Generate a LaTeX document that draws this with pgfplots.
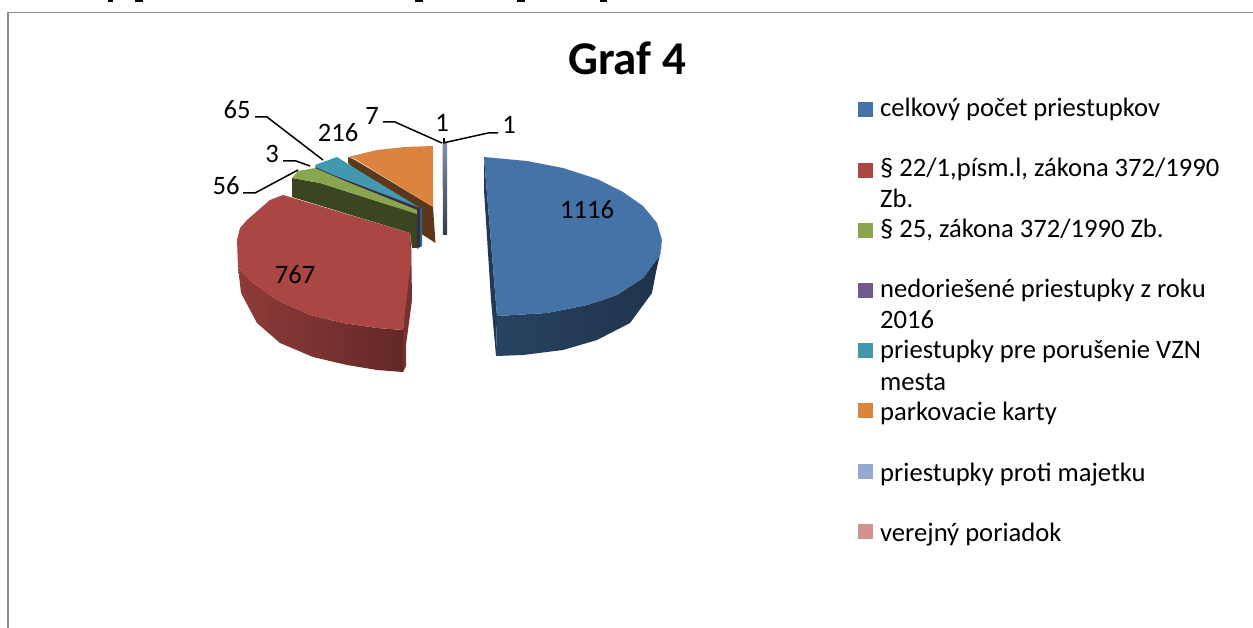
\documentclass[border=0pt]{standalone}
\usepackage{pgfplots}
\pgfplotsset{compat=1.18}
\usepackage{fontspec}
\setmainfont{Carlito}
\definecolor{cBlue}{HTML}{4572A7}
\definecolor{cRed}{HTML}{AA4643}
\definecolor{cGreen}{HTML}{89A54E}
\definecolor{cPurple}{HTML}{71588F}
\definecolor{cTeal}{HTML}{4198AF}
\definecolor{cOrange}{HTML}{DB843D}
\definecolor{cLBlue}{HTML}{93A9CF}
\definecolor{cPink}{HTML}{D19392}
\newcommand{\lab}{\fontsize{26.6}{30}\selectfont}
\begin{document}
\begin{tikzpicture}
\begin{axis}[hide axis, scale only axis, width=1253pt, height=628pt,
  xmin=0, xmax=1253, ymin=0, ymax=628, y dir=reverse, clip=true]
% page background keeps the full extent
\addplot[draw=none, fill=white] coordinates {(0,0) (1253,0) (1253,628) (0,628)};
% frame
\addplot[draw=black!45, line width=1.6pt] coordinates {(8,640) (8,12.5) (1260,12.5)};
% cut-off descenders of the text line above
\addplot[black, line width=2pt] coordinates {(108,0.8) (113,0.8)};
\addplot[black, line width=2pt] coordinates {(135,0.8) (143,0.8)};
\addplot[black, line width=2pt] coordinates {(415,0.8) (423,0.8)};
\addplot[black, line width=2pt] coordinates {(517,0.8) (525,0.8)};
\addplot[black, line width=2pt] coordinates {(600,0.8) (607,0.8)};
% thin slices
\addplot[draw=none, shade, top color=black!15!cLBlue, middle color=black!45!cLBlue, bottom color=black!65!cLBlue] coordinates {(442.5,143) (447,143) (447,235) (443,235)};
% orange
\addplot[draw=none, fill=black!58!cOrange] coordinates {(348,157) (355,160) (433,207) (435.5,243) (420,233) (348,163)};
\addplot[draw=none, fill=cOrange] coordinates {(348,157) (377,150) (405,147) (433,146) (433,207) (355,159)};
% teal wall, purple wall, green wall
\addplot[draw=none, fill=black!30!cTeal] coordinates {(417,209) (422,208) (422,246) (417,249)};
\addplot[draw=none, fill=cTeal] coordinates {(315,165) (337,157) (348,164) (420,208) (417,208) (333,176) (316,168)};
\addplot[draw=none, fill=black!50!cPurple] coordinates {(315,167) (333,175) (420,208) (420,247) (417,247) (417,212) (345,182) (317,170)};
\addplot[draw=none, fill=black!58!cGreen] coordinates {(292,178) (292,197) (410,233) (412,248) (417,248) (417,214) (320,183)};
\addplot[draw=none, fill=cGreen] coordinates {(292,178) (298,171) (315,168) (345,181) (417,210) (417,214) (320,183)};
% red
\addplot[draw=none, fill=black!30!cRed] coordinates {(403,330) (411,233) (412,300) (406,345) (406,366) (403,372)};
\addplot[draw=none, shade, left color=black!16!cRed, middle color=black!25!cRed, right color=black!42!cRed] coordinates {(238,267) (253,283) (277,300) (310,315) (343,323) (377,328) (403,330) (403,372) (377,370) (347,365) (313,357) (280,343) (257,323) (241,293)};
\addplot[draw=none, fill=cRed] coordinates {(410,233) (283,195) (270,200) (247,220) (240,228) (237,240) (238,267) (253,283) (277,300) (310,315) (343,323) (377,328) (403,330) (411,260)};
% blue
\addplot[draw=none, fill=black!50!cBlue] coordinates {(484,157) (497,316) (496,356) (491,300) (484,190)};
\addplot[draw=none, shade, left color=black!42!cBlue, middle color=black!62!cBlue, right color=black!55!cBlue] coordinates {(662,245) (660,255) (643,278) (617,295) (587,305) (547,313) (497,316) (496,356) (523,355) (563,350) (597,340) (630,323) (652,293) (656,272)};
\addplot[draw=none, fill=cBlue] coordinates {(484,157) (527,161) (563,168) (597,179) (623,192) (643,206) (657,223) (662,240) (660,255) (643,278) (617,295) (587,305) (547,313) (497,316)};
% leader lines
\addplot[black, line width=1.5pt] coordinates {(255,117) (267,117) (323,160)};
\addplot[black, line width=1.5pt] coordinates {(283,161) (296,161) (310,166)};
\addplot[black, line width=1.5pt] coordinates {(243,193) (255,193) (298,170)};
\addplot[black, line width=1.5pt] coordinates {(383,122) (395,122) (442,143)};
\addplot[black, line width=1.5pt] coordinates {(444,138) (444,143)};
\addplot[black, line width=1.5pt] coordinates {(498,133) (488,133) (443,143)};
% legend swatches
\addplot[draw=none, fill=cBlue] coordinates {(858,102) (873,102) (873,117) (858,117)};
\addplot[draw=none, fill=cRed] coordinates {(858,163) (873,163) (873,178) (858,178)};
\addplot[draw=none, fill=cGreen] coordinates {(858,223) (873,223) (873,238) (858,238)};
\addplot[draw=none, fill=cPurple] coordinates {(858,283) (873,283) (873,298) (858,298)};
\addplot[draw=none, fill=cTeal] coordinates {(858,343) (873,343) (873,358) (858,358)};
\addplot[draw=none, fill=cOrange] coordinates {(858,403) (873,403) (873,418) (858,418)};
\addplot[draw=none, fill=cLBlue] coordinates {(858,464) (873,464) (873,479) (858,479)};
\addplot[draw=none, fill=cPink] coordinates {(858,524) (873,524) (873,539) (858,539)};
% title
\node[anchor=base, inner sep=0pt] at (axis cs:627,75) {\fontsize{47}{56}\selectfont\bfseries Graf 4};
% data labels
\node[inner sep=0pt] at (axis cs:237,110) {\lab 65};
\node[inner sep=0pt] at (axis cs:338,133) {\lab 216};
\node[inner sep=0pt] at (axis cs:272,154) {\lab 3};
\node[inner sep=0pt] at (axis cs:226,186) {\lab 56};
\node[inner sep=0pt] at (axis cs:372,116) {\lab 7};
\node[inner sep=0pt] at (axis cs:442,123) {\lab 1};
\node[inner sep=0pt] at (axis cs:509,125) {\lab 1};
\node[inner sep=0pt] at (axis cs:587,210) {\lab 1116};
\node[inner sep=0pt] at (axis cs:295,275) {\lab 767};
% legend text
\node[anchor=base west, inner sep=0pt] at (axis cs:880,117) {\lab celkový počet priestupkov};
\node[anchor=base west, inner sep=0pt] at (axis cs:880,177) {\lab § 22/1,písm.l, zákona 372/1990};
\node[anchor=base west, inner sep=0pt] at (axis cs:880,208) {\lab Zb.};
\node[anchor=base west, inner sep=0pt] at (axis cs:880,238) {\lab § 25, zákona 372/1990 Zb.};
\node[anchor=base west, inner sep=0pt] at (axis cs:880,298) {\lab nedoriešené priestupky z roku};
\node[anchor=base west, inner sep=0pt] at (axis cs:880,329) {\lab 2016};
\node[anchor=base west, inner sep=0pt] at (axis cs:880,359) {\lab priestupky pre porušenie VZN};
\node[anchor=base west, inner sep=0pt] at (axis cs:880,390) {\lab mesta};
\node[anchor=base west, inner sep=0pt] at (axis cs:880,420) {\lab parkovacie karty};
\node[anchor=base west, inner sep=0pt] at (axis cs:880,481) {\lab priestupky proti majetku};
\node[anchor=base west, inner sep=0pt] at (axis cs:880,541) {\lab verejný poriadok};
\end{axis}
\end{tikzpicture}
\end{document}
